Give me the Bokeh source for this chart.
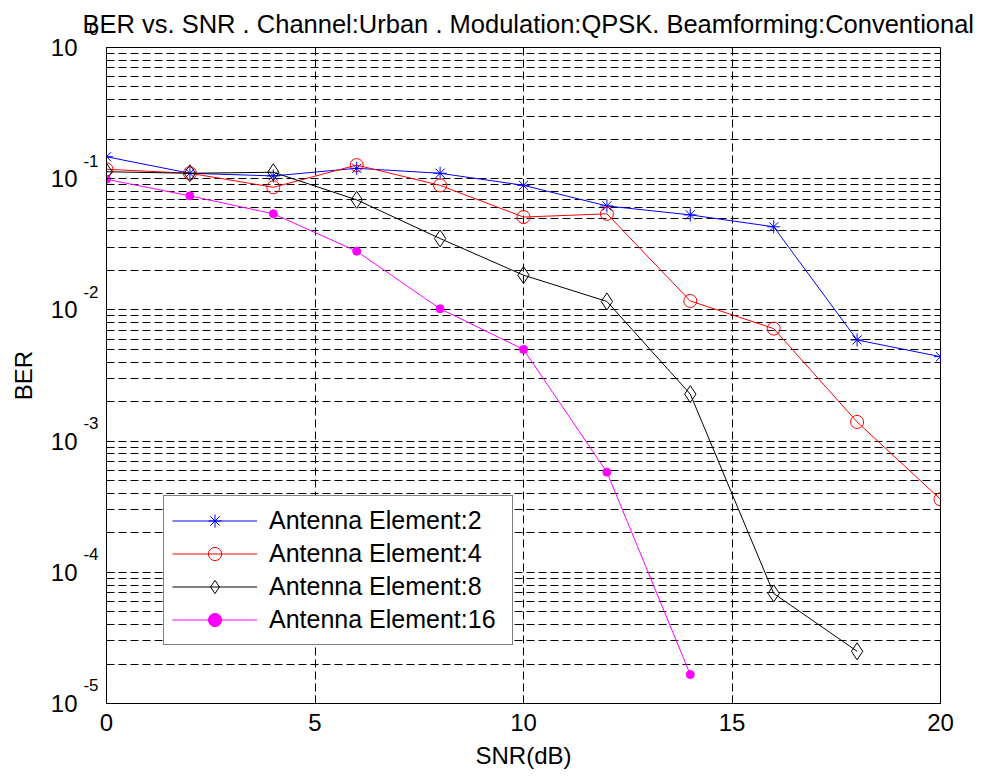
from bokeh.plotting import figure
from bokeh.models import (FixedTicker, CustomJSTickFormatter, Legend, LegendItem,
                          LogAxis, Range1d)
from bokeh.embed import file_html
from bokeh.resources import INLINE

# ---- data ----
snr = [0, 2, 4, 6, 8, 10, 12, 14, 16, 18, 20]
ber_ant2 = [0.147, 0.110, 0.105, 0.120, 0.110, 0.089, 0.062, 0.053, 0.043, 0.0059, 0.0044]
ber_ant4 = [0.118, 0.110, 0.086, 0.127, 0.089, 0.051, 0.054, 0.0117, 0.0072, 0.0014, 0.00036]
ber_ant8 = [0.113, 0.110, 0.112, 0.069, 0.035, 0.0184, 0.0116, 0.00228, 6.9e-5, 2.5e-5]
ber_ant16 = [0.099, 0.074, 0.054, 0.028, 0.0102, 0.0050, 0.00058, 1.66e-5]
x_ticks = [0, 5, 10, 15, 20]
y_exponents = [0, -1, -2, -3, -4, -5]
labels = ["Antenna Element:2", "Antenna Element:4", "Antenna Element:8", "Antenna Element:16"]

FONT = "Liberation Sans"
title = "BER vs. SNR . Channel:Urban . Modulation:QPSK. Beamforming:Conventional"

p = figure(width=989, height=776, x_range=Range1d(0, 20), y_range=Range1d(1e-5, 1),
           y_axis_type="log", output_backend="svg", toolbar_location=None,
           min_border_left=106, min_border_right=49, min_border_top=47, min_border_bottom=73,
           title=title)

p.title.text_font = FONT
p.title.text_font_size = "25.5px"
p.title.text_font_style = "normal"
p.title.text_color = "black"
p.title.align = "left"
p.title.offset = -24
p.title.vertical_align = "top"
p.title.standoff = 16

p.outline_line_color = "black"
p.outline_line_width = 1
p.background_fill_color = "white"
p.border_fill_color = "white"

y_major = [10.0 ** e for e in y_exponents]
y_minor = [m * 10.0 ** e for e in y_exponents[1:] for m in range(2, 10)]

# x axis
xa = p.xaxis[0]
xa.ticker = FixedTicker(ticks=x_ticks)
xa.axis_label = "SNR(dB)"
xa.major_label_standoff = 10
xa.axis_label_standoff = 8

# inner y axis: inward ticks + exponent (superscript) labels raised above each tick
ya = p.yaxis[0]
ya.ticker = FixedTicker(ticks=y_major, minor_ticks=y_minor)
ya.formatter = CustomJSTickFormatter(
    code="return String(Math.round(Math.log10(tick))) + '\\n\\u00a0';")
ya.major_label_text_font_size = "17px"
ya.major_label_text_line_height = 1.85
ya.major_label_standoff = 8

# outer y axis: the "10" base of each label, plus the axis title
yb = LogAxis(ticker=FixedTicker(ticks=y_major),
             formatter=CustomJSTickFormatter(code="return '10';"))
yb.axis_line_color = None
yb.major_tick_line_color = None
yb.minor_tick_line_color = None
yb.major_tick_in = 0
yb.major_tick_out = 0
yb.minor_tick_in = 0
yb.minor_tick_out = 0
yb.major_label_standoff = 3
yb.major_label_text_font_size = "24px"
yb.axis_label = "BER"
yb.axis_label_standoff = 11
p.add_layout(yb, "left")

for ax in (xa, ya, yb):
    ax.major_label_text_font = FONT
    ax.major_label_text_color = "black"
    ax.axis_label_text_font = FONT
    ax.axis_label_text_font_size = "24px"
    ax.axis_label_text_font_style = "normal"
    ax.axis_label_text_color = "black"
xa.major_label_text_font_size = "24px"

for ax in (xa, ya):
    ax.axis_line_color = "black"
    ax.major_tick_line_color = "black"
    ax.minor_tick_line_color = "black"
    ax.major_tick_in = 8
    ax.major_tick_out = 0
    ax.minor_tick_in = 4
    ax.minor_tick_out = 0

p.xgrid.ticker = FixedTicker(ticks=x_ticks)
p.xgrid.grid_line_color = "black"
p.xgrid.grid_line_dash = "8 4"
p.xgrid.grid_line_width = 1
p.ygrid.grid_line_color = "black"
p.ygrid.grid_line_dash = "8 4"
p.ygrid.minor_grid_line_color = "black"
p.ygrid.minor_grid_line_dash = "8 4"

series = [
    (snr, ber_ant2, "#0000ff", dict(marker="asterisk", size=13, line_color="#0000ff", fill_color=None)),
    (snr, ber_ant4, "#ff0000", dict(marker="circle", size=13, line_color="#ff0000", fill_color=None)),
    (snr[:len(ber_ant8)], ber_ant8, "black", dict(marker="diamond", size=17, line_color="black", fill_color=None)),
    (snr[:len(ber_ant16)], ber_ant16, "#ff00ff", dict(marker="circle", size=8, line_color="#ff00ff", fill_color="#ff00ff")),
]

items = []
for (xs, ys, col, mk), lab in zip(series, labels):
    r1 = p.line(xs, ys, line_color=col, line_width=1)
    r2 = p.scatter(xs, ys, line_width=1, **mk)
    items.append(LegendItem(label=lab, renderers=[r1, r2]))

legend = Legend(items=items, location=(57, 58))
legend.label_text_font = FONT
legend.label_text_font_size = "25px"
legend.label_text_color = "black"
legend.border_line_color = "black"
legend.border_line_width = 1
legend.background_fill_color = "white"
legend.background_fill_alpha = 1
legend.padding = 8
legend.spacing = 0
legend.margin = 0
legend.label_height = 33
legend.glyph_height = 33
legend.glyph_width = 85
legend.label_standoff = 12
legend.label_width = 235
p.add_layout(legend)

open("out.html", "w").write(file_html(p, INLINE))
